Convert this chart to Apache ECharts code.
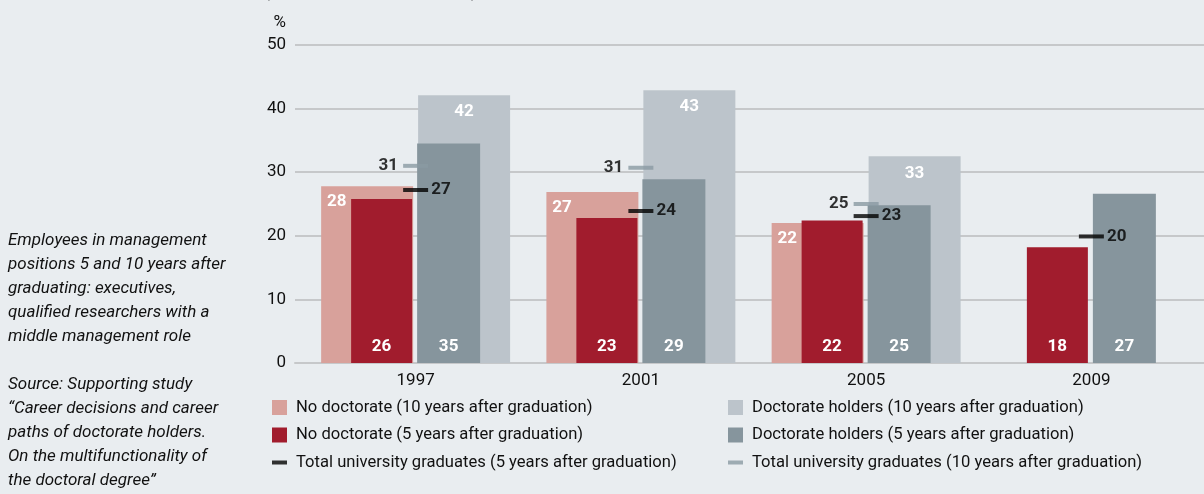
<!DOCTYPE html>
<html><head><meta charset="utf-8">
<script src="https://cdn.jsdelivr.net/npm/echarts@6/dist/echarts.min.js"></script>
<style>html,body{margin:0;padding:0;background:#e9edf0;}#c{width:1204px;height:494px;}</style>
</head><body><div id="c"></div>
<script>
// ---- data ----
const categories = ['1997', '2001', '2005', '2009'];
const noDoc10 = [27.8, 26.9, 22.0, null];
const noDoc5 = [25.8, 22.8, 22.4, 18.2];
const doc10 = [42.1, 42.9, 32.5, null];
const doc5 = [34.5, 28.9, 24.8, 26.6];
const total5 = [27.2, 23.9, 23.1, 19.9];
const total10 = [31.0, 30.7, 25.0, null];
const yMin = 0, yMax = 50, yStep = 10;
const names = [
  'No doctorate (10 years after graduation)',
  'No doctorate (5 years after graduation)',
  'Total university graduates (5 years after graduation)',
  'Doctorate holders (10 years after graduation)',
  'Doctorate holders (5 years after graduation)',
  'Total university graduates (10 years after graduation)'
];
const titleText = '(by degree and cohort, in %)';
const noteLines = ['Employees in management', 'positions 5 and 10 years after', 'graduating: executives,', 'qualified researchers with a', 'middle management role'];
const sourceLines = ['Source: Supporting study', '\u201cCareer decisions and career', 'paths of doctorate holders.', 'On the multifunctionality of', 'the doctoral degree\u201d'];

// ---- style ----
const FONT = 'Roboto, "Noto Sans", sans-serif';
const C = { pink: '#d8a19b', red: '#a11c2d', lg: '#bcc4cb', dg: '#86959d', blk: '#000000', gm: '#8a9aa3', grid: '#c6c8ca' };
const round = p => Math.round(p.value);
const whiteLbl = { show: true, color: '#ffffff', fontWeight: 'bold', fontSize: 17, fontFamily: FONT, formatter: round };
const lineIcon = 'path://M0,0H15V4H0Z';
const legendBase = { top: 399, orient: 'vertical', itemWidth: 15, itemHeight: 15, itemGap: 10.5, padding: 0, selectedMode: false,
  textStyle: { fontSize: 16.6, color: '#111', fontFamily: FONT, padding: [0, 0, 0, 4] } };

const chart = echarts.init(document.getElementById('c'), null, { renderer: 'canvas' });
chart.setOption({
  backgroundColor: '#e9edf0',
  animation: false,
  title: [
    { text: titleText, left: 264, top: -16, padding: 0, textStyle: { fontSize: 17, fontWeight: 'bold', color: '#111', fontFamily: FONT } },
    { text: noteLines.join('\n'), left: 8, top: 229, padding: 0, textStyle: { fontSize: 17, fontStyle: 'italic', fontWeight: 'normal', lineHeight: 24, color: '#111', fontFamily: FONT } },
    { text: sourceLines.join('\n'), left: 8, top: 373, padding: 0, textStyle: { fontSize: 17, fontStyle: 'italic', fontWeight: 'normal', lineHeight: 24, color: '#111', fontFamily: FONT } }
  ],
  grid: [
    { left: 295, right: 0, top: 45, bottom: 131 },
    { left: 303, width: 903, top: 45, bottom: 131 }
  ],
  legend: [
    Object.assign({}, legendBase, { left: 272, data: [{ name: names[0], icon: 'rect' }, { name: names[1], icon: 'rect' }, { name: names[2], icon: lineIcon }] }),
    Object.assign({}, legendBase, { left: 728, data: [{ name: names[3], icon: 'rect' }, { name: names[4], icon: 'rect' }, { name: names[5], icon: lineIcon }] })
  ],
  xAxis: [
    { type: 'category', gridIndex: 1, data: categories, axisLine: { show: false }, axisTick: { show: false },
      axisLabel: { margin: 9, fontSize: 17, color: '#111', fontFamily: FONT } },
    { type: 'category', gridIndex: 1, data: categories, show: false },
    { type: 'category', gridIndex: 0, data: categories, axisTick: { show: false }, axisLabel: { show: false },
      axisLine: { show: true, lineStyle: { color: C.grid, width: 2 } } }
  ],
  yAxis: [
    { type: 'value', gridIndex: 0, min: yMin, max: yMax, interval: yStep, name: '%', nameLocation: 'end', nameGap: 14,
      nameTextStyle: { fontSize: 17, color: '#111', fontFamily: FONT, align: 'right', padding: [0, 9, 0, 0] },
      axisLine: { show: false }, axisTick: { show: false },
      axisLabel: { margin: 9, fontSize: 17, color: '#111', fontFamily: FONT },
      splitLine: { lineStyle: { color: C.grid, width: 2 } } },
    { type: 'value', gridIndex: 1, min: yMin, max: yMax, interval: yStep, show: false, splitLine: { show: false } }
  ],
  series: [
    { name: names[0], type: 'bar', xAxisIndex: 0, yAxisIndex: 1, data: noDoc10, barWidth: 92, barGap: '5.4%',
      itemStyle: { color: C.pink }, label: Object.assign({}, whiteLbl, { position: [15.5, 16], align: 'center', verticalAlign: 'middle' }) },
    { name: names[3], type: 'bar', xAxisIndex: 0, yAxisIndex: 1, data: doc10, barWidth: 92, barGap: '5.4%',
      itemStyle: { color: C.lg }, label: Object.assign({}, whiteLbl, { position: ['50%', 17], align: 'center', verticalAlign: 'middle' }) },
    { name: names[1], type: 'bar', xAxisIndex: 1, yAxisIndex: 1, data: noDoc5, barWidth: 61, barGap: '8.2%',
      itemStyle: { color: C.red }, label: Object.assign({}, whiteLbl, { position: 'insideBottom', distance: 8 }) },
    { name: names[4], type: 'bar', xAxisIndex: 1, yAxisIndex: 1, data: doc5, barWidth: 63, barGap: '8.2%',
      itemStyle: { color: C.dg }, label: Object.assign({}, whiteLbl, { position: 'insideBottom', distance: 8 }) },
    { name: names[5], type: 'scatter', xAxisIndex: 0, yAxisIndex: 1, data: total10, symbol: 'rect', symbolSize: [25, 4], z: 5,
      itemStyle: { color: C.gm },
      label: { show: true, position: 'left', distance: 5, color: '#000', fontWeight: 'bold', fontSize: 17, fontFamily: FONT, formatter: round } },
    { name: names[2], type: 'scatter', xAxisIndex: 0, yAxisIndex: 1, data: total5, symbol: 'rect', symbolSize: [25, 4], z: 6,
      itemStyle: { color: C.blk },
      label: { show: true, position: 'right', distance: 3, color: '#000', fontWeight: 'bold', fontSize: 17, fontFamily: FONT, formatter: round } }
  ]
});
</script></body></html>
